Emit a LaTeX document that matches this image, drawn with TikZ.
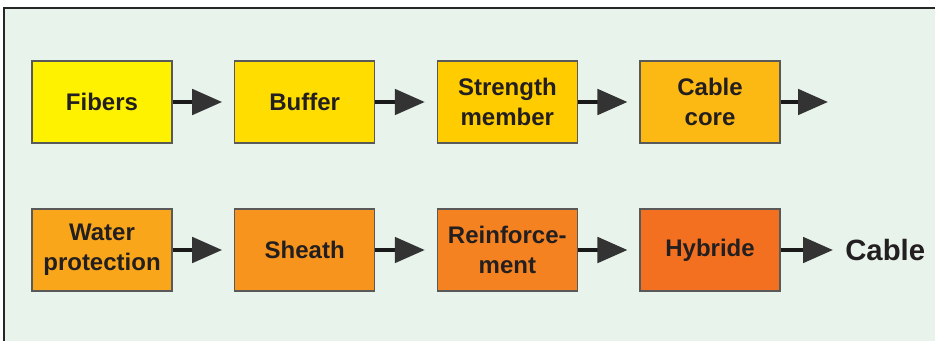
\documentclass[tikz,border=0pt]{standalone}
\usepackage{fontspec}
\setmainfont{Liberation Sans}
\usepackage{xcolor}
\usetikzlibrary{arrows.meta, positioning}

\definecolor{bgcol}{HTML}{E8F3EC}
\definecolor{txtcol}{HTML}{231F20}
\definecolor{tipcol}{HTML}{333333}
\definecolor{c1}{HTML}{FFF200}
\definecolor{c2}{HTML}{FFDD00}
\definecolor{c3}{HTML}{FFCC00}
\definecolor{c4}{HTML}{FDB913}
\definecolor{c5}{HTML}{FAA61A}
\definecolor{c6}{HTML}{F7941D}
\definecolor{c7}{HTML}{F58220}
\definecolor{c8}{HTML}{F37021}

\begin{document}
\begin{tikzpicture}[
  x=0.75pt, y=-0.75pt,
  stage/.style={rectangle, draw=black!65, line width=0.8pt, minimum width=105pt,
    minimum height=61.5pt, inner sep=0pt, align=center, text=txtcol,
    font=\fontsize{18}{22.5}\selectfont\bfseries},
  flow/.style={-{Triangle[length=22.5pt, width=19pt, color=tipcol]}, line width=3pt,
    black!90, shorten >=9pt},
  node distance=46.2pt and 46.2pt
]
\useasboundingbox (0,0) rectangle (935,340);
\fill[bgcol] (4,7.5) rectangle (940,345);
\draw[black!85, line width=1.5pt] (4,345) -- (4,7.5) -- (940,7.5);

% first row
\node[stage, fill=c1] (fib) at (102,102) {Fibers};
\node[stage, fill=c2, right=of fib] (buf) {Buffer};
\node[stage, fill=c3, right=of buf] (str) {Strength\\member};
\node[stage, fill=c4, right=of str] (core) {Cable\\core};
\coordinate (out1) at (840,102);

% second row
\node[stage, fill=c5] (wat) at (102,250) {Water\\protection};
\node[stage, fill=c6, right=of wat] (sh) {Sheath};
\node[stage, fill=c7, right=of sh] (rein) {Reinforce-\\ment};
\node[stage, fill=c8, right=of rein] (hyb) {Hybride};
\node[anchor=west, inner sep=0pt, text=txtcol, font=\fontsize{22}{26}\selectfont\bfseries]
  (cab) at (845,250) {Cable};

\draw[flow] (fib) -- (buf);
\draw[flow] (buf) -- (str);
\draw[flow] (str) -- (core);
\draw[flow] (core) -- (out1);
\draw[flow] (wat) -- (sh);
\draw[flow] (sh) -- (rein);
\draw[flow] (rein) -- (hyb);
\draw[flow] (hyb) -- (cab.west);
\end{tikzpicture}
\end{document}
